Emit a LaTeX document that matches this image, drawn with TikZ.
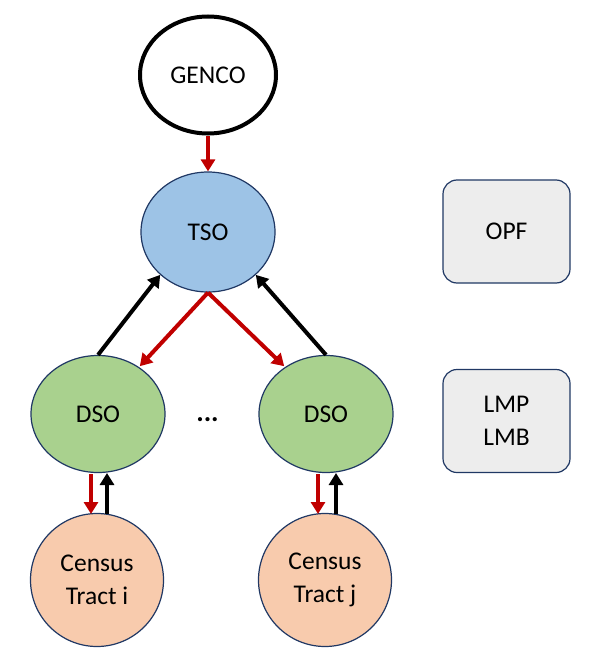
\documentclass[tikz,border=0pt]{standalone}
\usepackage{fontspec}
\setmainfont{Carlito}
\usetikzlibrary{arrows.meta,shapes.geometric}
\definecolor{edge}{HTML}{203864}
\definecolor{tsofill}{HTML}{9DC3E6}
\definecolor{dsofill}{HTML}{A9D18E}
\definecolor{tractfill}{HTML}{F8CBAD}
\definecolor{boxfill}{HTML}{EDEDED}
\definecolor{redarrow}{HTML}{C00000}
\begin{document}
\begin{tikzpicture}[x=1pt,y=-1pt,
  lbl/.style={font=\fontsize{25.5}{33}\selectfont, align=center},
  oval/.style={ellipse, draw=edge, line width=1.2pt, inner sep=0pt, lbl},
  infobox/.style={rectangle, rounded corners=14pt, draw=edge, line width=1.2pt, fill=boxfill, minimum width=127pt, minimum height=103pt, lbl},
  redarr/.style={draw=redarrow, line width=4pt, -{Triangle[width=14pt,length=12pt]}},
  blkarr/.style={draw=black, line width=4pt, -{Triangle[width=14pt,length=12pt]}}
]
\useasboundingbox (0,0) rectangle (599,669);
\node[ellipse, draw=black, line width=4pt, minimum width=136pt, minimum height=117pt, lbl] (genco) at (208,75) {GENCO};
\node[oval, fill=tsofill, minimum width=134pt, minimum height=120pt] (tso) at (208,232) {TSO};
\node[oval, fill=dsofill, minimum width=134pt, minimum height=117pt] (dsol) at (98,414) {DSO};
\node[oval, fill=dsofill, minimum width=134pt, minimum height=117pt] (dsor) at (326,414) {DSO};
\node[oval, fill=tractfill, minimum width=133pt, minimum height=133pt] (trl) at (97,580) {Census\\Tract i};
\node[oval, fill=tractfill, minimum width=133pt, minimum height=133pt] (trr) at (325,580) {Census\\Tract j};
\node[font=\fontsize{28}{31}\selectfont\bfseries] (dots) at (207.5,420) {...};
\node[infobox] (opf) at (506.5,231.5) {OPF};
\node[infobox] (lmp) at (506.5,421) {LMP\\LMB};
% arrows
\draw[redarr] (genco.south) -- (tso.north);
\draw[blkarr] (dsol.north) -- (tso.south west);
\draw[blkarr] (dsor.north) -- (tso.south east);
\draw[redarr] (tso.south) -- ([xshift=-6pt,yshift=6pt]dsol.north east);
\draw[redarr] (tso.south) -- ([xshift=6pt,yshift=6pt]dsor.north west);
\coordinate (la) at (91,474);
\coordinate (lb) at (91,514);
\coordinate (lc) at (107,514);
\coordinate (ld) at (107,473);
\coordinate (ra) at (318,474);
\coordinate (rb) at (318,514);
\coordinate (rc) at (336,514);
\coordinate (rd) at (336,473);
\draw[redarr] (la) -- (lb);
\draw[blkarr] (lc) -- (ld);
\draw[redarr] (ra) -- (rb);
\draw[blkarr] (rc) -- (rd);
\end{tikzpicture}
\end{document}
